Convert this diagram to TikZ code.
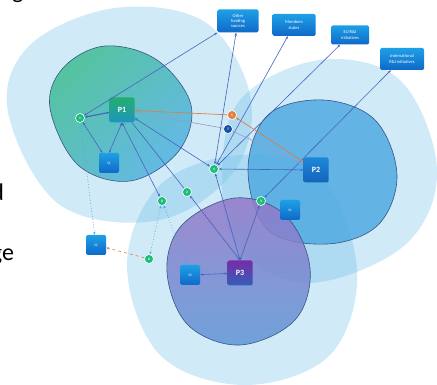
\documentclass[tikz,border=0pt]{standalone}
\usepackage{fontspec}
\setmainfont{Carlito}
\usetikzlibrary{arrows.meta}
\definecolor{halo}{RGB}{100,185,230}
\definecolor{blobline}{RGB}{55,85,130}
\definecolor{linkblue}{RGB}{70,100,190}
\definecolor{lavender}{RGB}{150,155,205}
\definecolor{dotline}{RGB}{80,165,230}
\definecolor{orangeline}{RGB}{220,125,75}
\definecolor{dotgreen}{RGB}{25,190,120}
\definecolor{dotorange}{RGB}{230,125,65}
\definecolor{dotdark}{RGB}{20,80,165}
\definecolor{boxtop}{RGB}{30,160,230}
\definecolor{boxbot}{RGB}{15,105,200}
\begin{document}
\begin{tikzpicture}[x=1pt,y=-1pt,
    tip/.style={{Stealth[length=3pt,width=2.4pt]}-{Stealth[length=3pt,width=2.4pt]}},
    link/.style={draw=linkblue,line width=0.6pt,tip},
    pbox/.style={rectangle,rounded corners=1.5pt,minimum size=25pt,inner sep=0pt,
      text=white,font=\bfseries\fontsize{8}{8}\selectfont},
    sbox/.style={rectangle,rounded corners=1.5pt,minimum size=20pt,inner sep=0pt,
      top color=boxtop,bottom color=boxbot,text=white,font=\fontsize{3.5}{4}\selectfont},
    tbox/.style={rectangle,rounded corners=1.5pt,inner sep=1pt,align=center,
      top color=boxtop,bottom color=boxbot,text=white,font=\fontsize{4.5}{5.2}\selectfont},
    dot/.style={circle,minimum size=9pt,inner sep=0pt,draw=white,line width=0.6pt,
      fill=dotgreen,text=white,font=\bfseries\fontsize{3.5}{4}\selectfont},
    slide/.style={anchor=base east,font=\fontsize{24}{28}\selectfont}]
  \useasboundingbox (0,0) rectangle (437,385);

  \fill[halo,opacity=0.3] plot[smooth cycle,tension=0.6] coordinates {(8,112) (30,45) (115,8) (205,22) (250,95) (235,170) (160,220) (60,205)};
  \fill[halo,opacity=0.3] plot[smooth cycle,tension=0.6] coordinates {(222,180) (240,100) (320,60) (400,80) (437,170) (405,245) (310,283) (240,250)};
  \fill[halo,opacity=0.3] plot[smooth cycle,tension=0.6] coordinates {(127,265) (160,185) (240,155) (320,175) (357,270) (330,355) (245,385) (160,355)};

  \shade[top color={rgb,255:red,85;green,195;blue,160},bottom color={rgb,255:red,100;green,185;blue,230},shading angle=45,draw=blobline,line width=0.6pt]
    plot[smooth cycle,tension=0.6] coordinates {(50,108) (63,68) (105,46) (157,60) (191,105) (178,152) (130,181) (78,165)};
  \fill[fill={rgb,255:red,80;green,170;blue,225},opacity=0.85] plot[smooth cycle,tension=0.6] coordinates {(248,170) (268,115) (323,100) (375,120) (397,175) (378,225) (327,244) (268,230)};
  \draw[blobline,line width=0.6pt] plot[smooth cycle,tension=0.6] coordinates {(248,170) (268,115) (323,100) (375,120) (397,175) (378,225) (327,244) (268,230)};
  \shade[top color={rgb,255:red,150;green,120;blue,200},bottom color={rgb,255:red,95;green,150;blue,215},opacity=0.85]
    plot[smooth cycle,tension=0.6] coordinates {(167,272) (182,225) (235,198) (285,215) (310,268) (295,320) (240,345) (188,325)};
  \draw[blobline,line width=0.6pt] plot[smooth cycle,tension=0.6] coordinates {(167,272) (182,225) (235,198) (285,215) (310,268) (295,320) (240,345) (188,325)};

  \node[slide] (w1) at (27,-1) {g};
  \node[slide] (w2) at (7.5,201) {d};
  \node[slide] (w3) at (17.5,261) {ge};

  \node[pbox,top color={rgb,255:red,35;green,175;blue,110},bottom color={rgb,255:red,30;green,150;blue,190}] (p1) at (122,110) {P1};
  \node[pbox,top color={rgb,255:red,30;green,135;blue,215},bottom color={rgb,255:red,20;green,100;blue,190}] (p2) at (316,170) {P2};
  \node[pbox,top color={rgb,255:red,120;green,45;blue,165},bottom color={rgb,255:red,50;green,95;blue,185}] (p3) at (240,273) {P3};

  \node[sbox] (s1) at (109,163) {S1};
  \node[sbox] (s2) at (96,245) {S2};
  \node[sbox] (s3) at (190,275) {S3};
  \node[sbox] (s4) at (290,210) {S4};

  \node[tbox,minimum width=41pt,minimum height=23pt] (other) at (238,21) {Other\\funding\\sources};
  \node[tbox,minimum width=43pt,minimum height=22pt] (members) at (294,25) {Members\\states};
  \node[tbox,minimum width=38pt,minimum height=19pt] (eu) at (350,35) {EU R\&I\\initiatives};
  \node[tbox,minimum width=44pt,minimum height=22pt] (intl) at (402,59) {International\\R\&I initiatives};

  \node[dot] (c1) at (80,118) {1};
  \node[dot] (c2) at (187,192) {2};
  \node[dot] (c3) at (261,201) {3};
  \node[dot] (c4) at (214,169) {4};
  \node[dot,fill=dotorange] (c5) at (232,115) {5};
  \node[dot] (c6) at (149,259) {6};
  \node[dot,fill=dotdark] (c7) at (228,129) {7};
  \node[dot] (c8) at (162,201) {8};

  \draw[link,line width=1.1pt] (c1) -- (p1);
  \draw[link] (c1) -- (other.south west);
  \draw[link] (c1) -- (s1);
  \draw[link] (s1.north) -- (p1.south);
  \draw[link] (p1) -- (c4);
  \draw[link] (p1.south) -- (c8);
  \draw[link] (p1) -- (c2) -- (p3.north);
  \draw[link] (p3.north) -- (c4);
  \draw[link] (p3.north) -- (c3);
  \draw[link] (s3) -- (p3);
  \draw[link] (p2) -- (c4);
  \draw[link] (c4) -- (other);
  \draw[link] (c4) -- (members);
  \draw[link] (c4) -- (eu);
  \draw[link] (c3) -- (intl);
  \draw[draw=lavender,line width=0.6pt,tip] (p1) -- (c7) -- (p2);
  \draw[draw=orangeline,line width=0.7pt,tip] (p2) -- (c5);
  \draw[draw=orangeline,line width=0.7pt,-{Stealth[length=3pt,width=2.4pt]}] (c5) -- (p1);
  \draw[draw=dotline,line width=0.7pt,dotted,-{Stealth[length=3pt,width=2.4pt]}] (c1) -- (s2);
  \draw[draw=dotline,line width=0.7pt,dotted,tip] (c8) -- (s3);
  \draw[draw=dotline,line width=0.7pt,dotted,tip] (c8) -- (c6);
  \draw[draw=orangeline,line width=0.6pt,dashed,-{Stealth[length=3pt,width=2.4pt]}] (c6) -- (s2);
\end{tikzpicture}
\end{document}
